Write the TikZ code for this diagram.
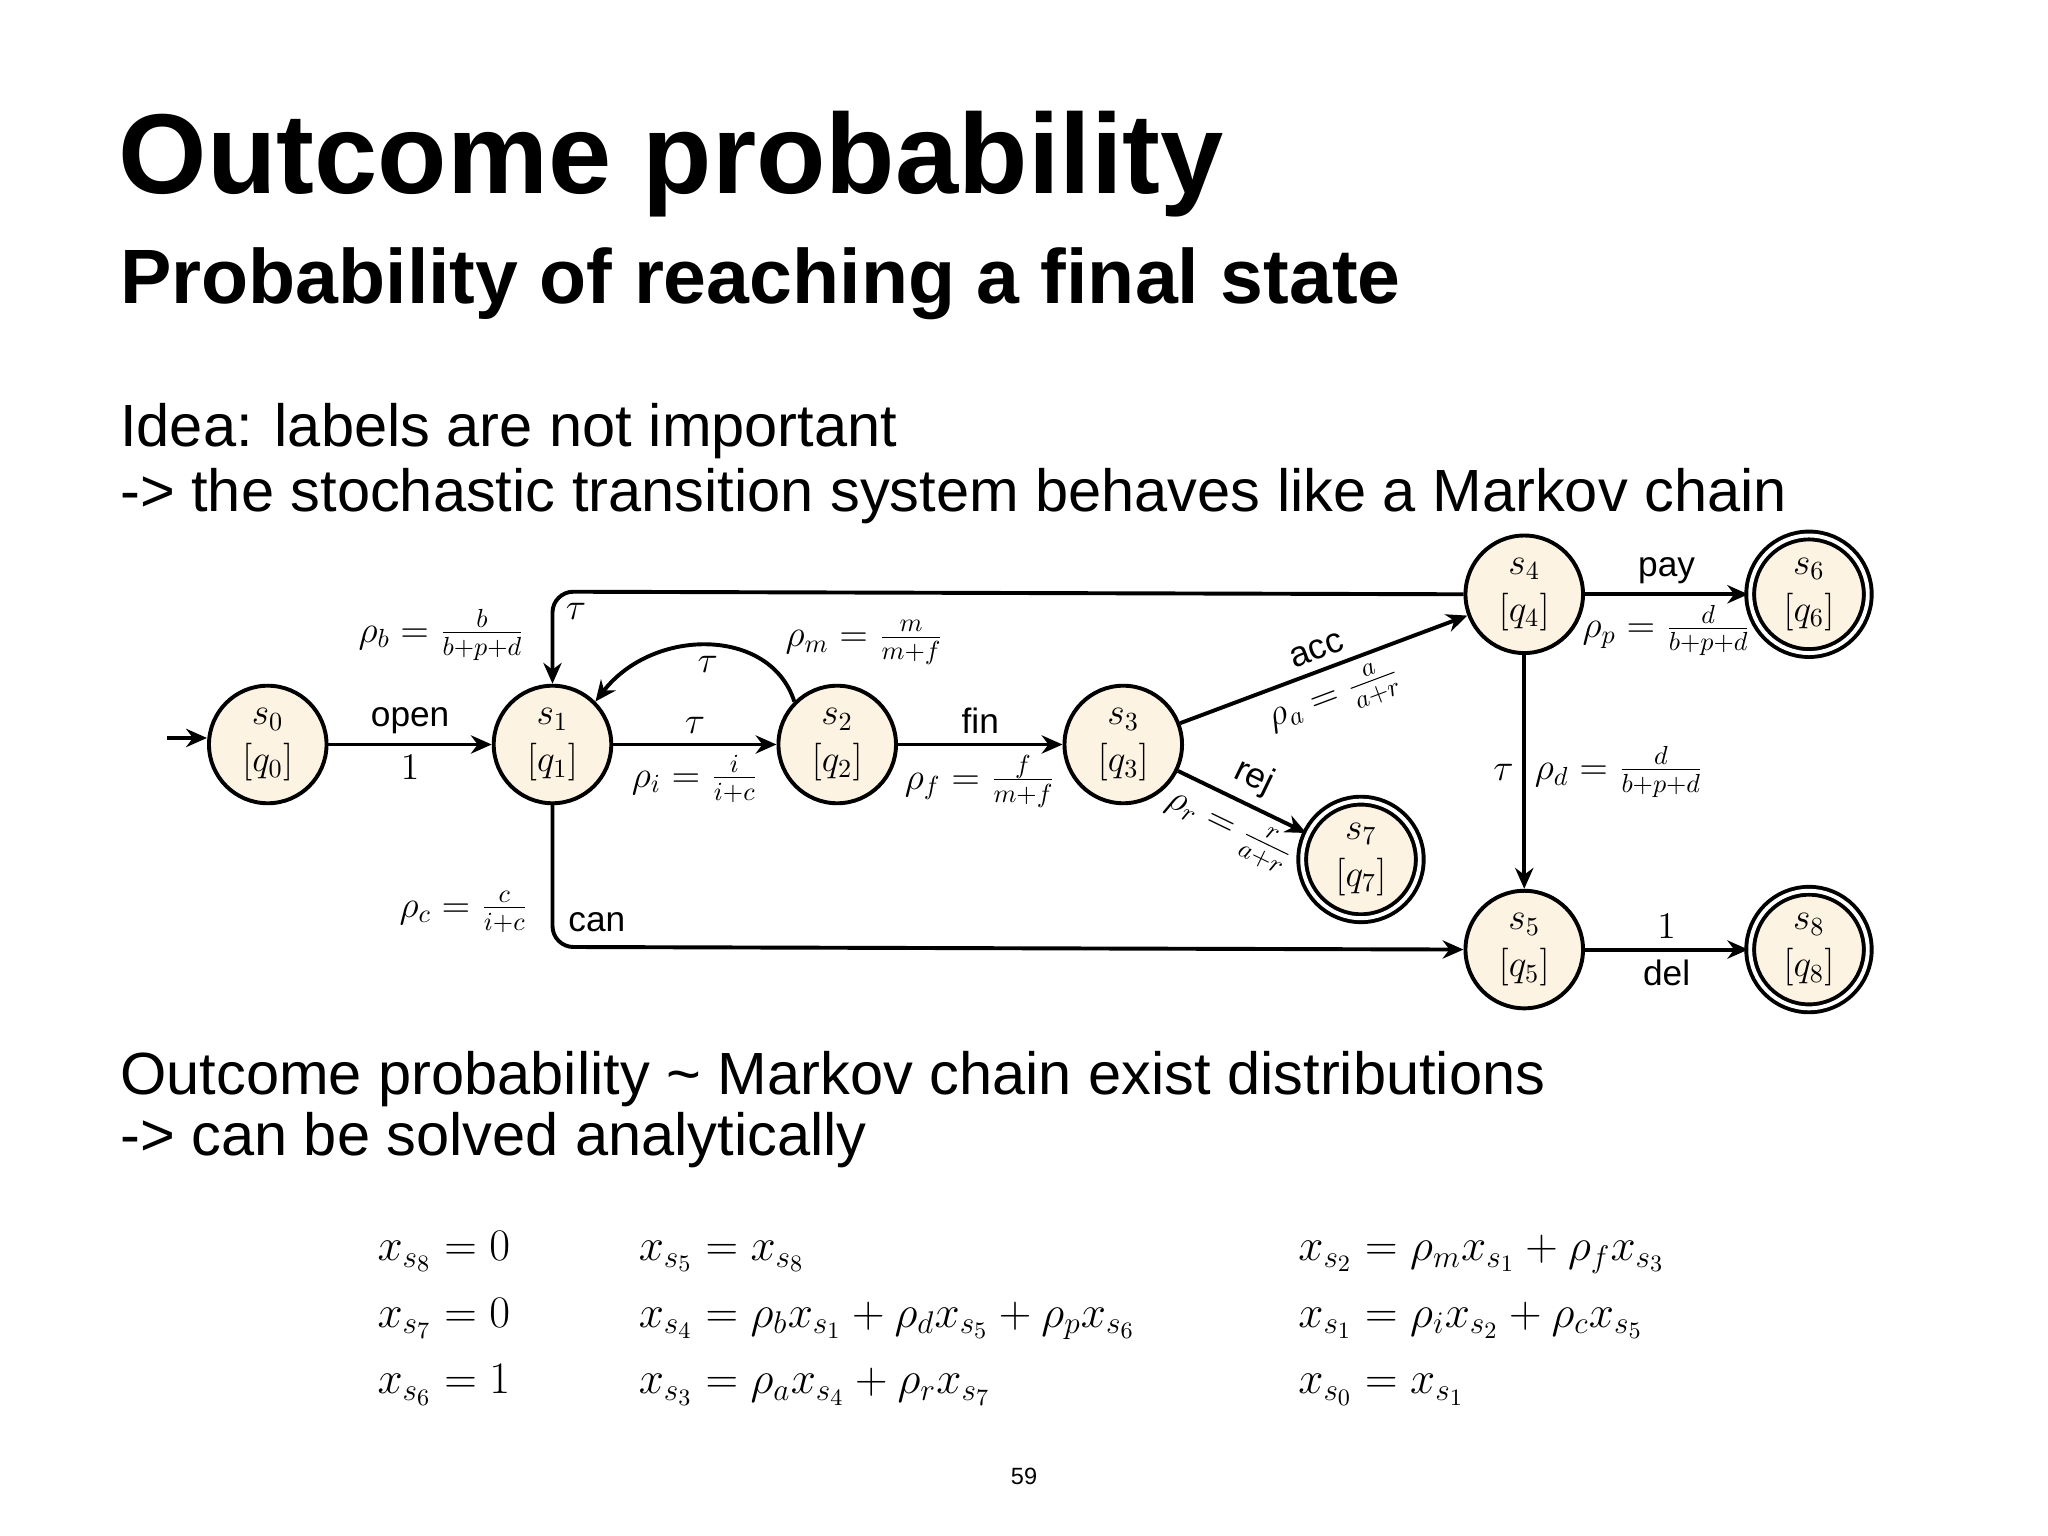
\documentclass[tikz,border=0pt]{standalone}
\usepackage{fontspec}
\setmainfont{Liberation Sans}
\usetikzlibrary{arrows.meta}
\definecolor{nfill}{HTML}{FDF3E3}
\tikzset{
  st/.style={circle,draw,line width=1.5pt,fill=nfill,minimum size=45pt,inner sep=0pt,align=center,font=\fontsize{14.5}{18}\selectfont},
  fin/.style={st,double,double distance=1.5pt},
  ed/.style={line width=1.5pt,-{Stealth[length=8pt,width=7pt]}},
  lb/.style={font=\fontsize{14}{16}\selectfont},
  sf/.style={font=\fontsize{13.5}{15}\selectfont},
}
\begin{document}
\begin{tikzpicture}[x=0.5pt,y=-0.5pt]
\useasboundingbox[fill=white] (0,0) rectangle (1568,1176);
\node[anchor=base west,font=\bfseries\fontsize{43.5}{50}\selectfont] (title) at (84,148) {Outcome probability};
\node[anchor=base west,font=\bfseries\fontsize{29.5}{34}\selectfont] (sub) at (85,232) {Probability of reaching a final state};
\node[anchor=base west,font=\fontsize{22.8}{27}\selectfont] (t1) at (85,342) {Idea: labels are not important};
\node[anchor=base west,font=\fontsize{22.8}{27}\selectfont] (t2) at (85,392) {-> the stochastic transition system behaves like a Markov chain};
\node[anchor=base west,font=\fontsize{22.8}{27}\selectfont] (t3) at (85,838) {Outcome probability \char`~{} Markov chain exist distributions};
\node[anchor=base west,font=\fontsize{22.8}{27}\selectfont] (t4) at (85,885) {-> can be solved analytically};

\node[st] (s0) at (205,570) {$s_0$\\$[q_0]$};
\node[st] (s1) at (423,570) {$s_1$\\$[q_1]$};
\node[st] (s2) at (641,570) {$s_2$\\$[q_2]$};
\node[st] (s3) at (860,570) {$s_3$\\$[q_3]$};
\node[st] (s4) at (1167,455) {$s_4$\\$[q_4]$};
\node[st] (s5) at (1167,727) {$s_5$\\$[q_5]$};
\node[fin] (s6) at (1385,455) {$s_6$\\$[q_6]$};
\node[fin] (s7) at (1042,658) {$s_7$\\$[q_7]$};
\node[fin] (s8) at (1385,727) {$s_8$\\$[q_8]$};
\coordinate (init) at (128,565);
\coordinate (c1) at (423,453);
\coordinate (c2) at (423,725);

\draw[ed] (init) -- (s0.west|-init);
\draw[ed] (s0) -- node[above,sf]{open} node[below,lb]{$1$} (s1);
\draw[ed] (s1) -- node[above,lb]{$\tau$} node[below,lb]{$\rho_i=\frac{i}{i+c}$} (s2);
\draw[ed] (s2.north west) .. controls (590,480) and (500,480) .. node[below,lb,pos=0.5]{$\tau$} (s1.north east);
\node[lb] (rm) at (662,492) {$\rho_m=\frac{m}{m+f}$};
\draw[ed] (s2) -- node[above,sf]{fin} node[below,lb]{$\rho_f=\frac{f}{m+f}$} (s3);
\draw[ed] (s3) -- node[above,sloped,sf]{acc} node[below,sloped,lb]{$\rho_a=\frac{a}{a+r}$} (s4);
\draw[ed] (s3) -- node[above,sloped,sf]{rej} node[below,sloped,lb]{$\rho_r=\frac{r}{a+r}$} (s7);
\draw[ed,rounded corners=8pt] (s4.west) -- (c1) -- (s1);
\node[lb] (tb) at (441,468) {$\tau$};
\node[lb] (rb) at (338,486) {$\rho_b=\frac{b}{b+p+d}$};
\draw[ed,rounded corners=8pt] (s1) -- (c2) -- (s5.west);
\node[sf] (can) at (457,706) {can};
\node[lb] (rc) at (355,698) {$\rho_c=\frac{c}{i+c}$};
\draw[ed] (s4) -- node[above,sf]{pay} node[below,lb]{$\rho_p=\frac{d}{b+p+d}$} (s6);
\draw[ed] (s4) -- node[left,lb]{$\tau$} node[right,lb]{$\rho_d=\frac{d}{b+p+d}$} (s5);
\draw[ed] (s5) -- node[above,lb]{$1$} node[below,sf]{del} (s8);

\begin{scope}[every node/.style={anchor=base west,font=\fontsize{18.5}{22}\selectfont}]
\node (e1) at (282,965) {$x_{s_8}=0$};
\node (e2) at (282,1016) {$x_{s_7}=0$};
\node (e3) at (282,1067) {$x_{s_6}=1$};
\node (e4) at (482,965) {$x_{s_5}=x_{s_8}$};
\node (e5) at (482,1016) {$x_{s_4}=\rho_b x_{s_1}+\rho_d x_{s_5}+\rho_p x_{s_6}$};
\node (e6) at (482,1067) {$x_{s_3}=\rho_a x_{s_4}+\rho_r x_{s_7}$};
\node (e7) at (987,965) {$x_{s_2}=\rho_m x_{s_1}+\rho_f x_{s_3}$};
\node (e8) at (987,1016) {$x_{s_1}=\rho_i x_{s_2}+\rho_c x_{s_5}$};
\node (e9) at (987,1067) {$x_{s_0}=x_{s_1}$};
\end{scope}
\node[font=\fontsize{9}{11}\selectfont] (pg) at (784,1130) {59};
\end{tikzpicture}
\end{document}
